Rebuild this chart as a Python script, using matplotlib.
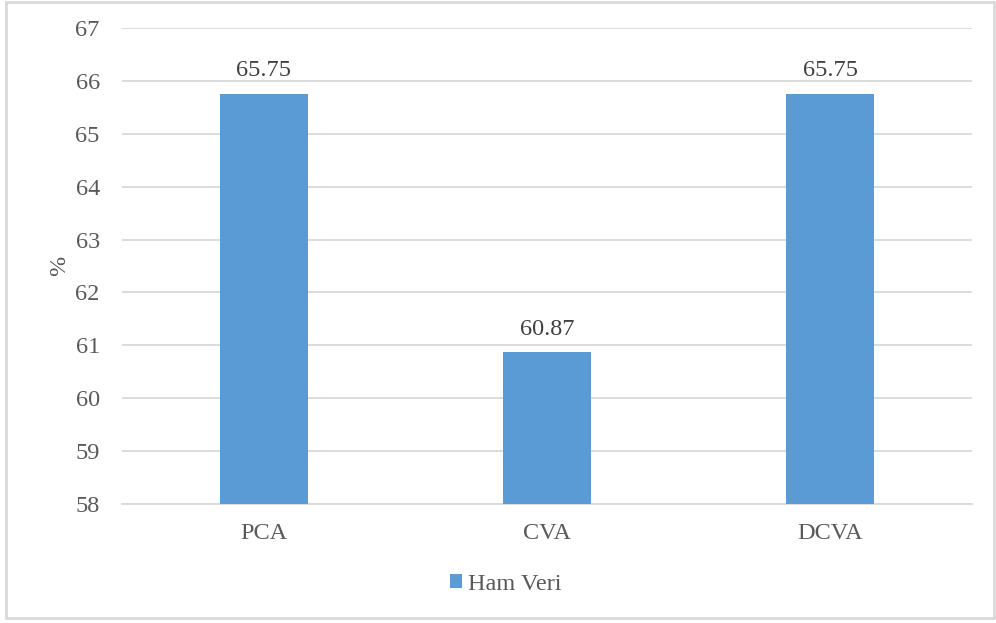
import matplotlib.pyplot as plt
from matplotlib.patches import Rectangle

methods = ["PCA", "CVA", "DCVA"]
ham_veri = [65.75, 60.87, 65.75]
yticks = list(range(58, 68))

plt.rcParams['font.family'] = ['Liberation Serif', 'DejaVu Serif']
txt = "#595959"
fs = 17.5

fig = plt.figure(figsize=(9.96, 6.23), dpi=100)
ax = fig.add_axes([122/996, 1 - 504/623, 850/996, 476/623])

# chart frame
fig.patches.append(Rectangle((6/996, 1 - 618/623), 988/996, 616/623,
                             transform=fig.transFigure, fill=False,
                             edgecolor="#d9d9d9", linewidth=2))

x = range(len(methods))
bars = ax.bar(x, ham_veri, width=0.31, color="#5b9bd5", label="Ham Veri", zorder=3)
for b, v in zip(bars, ham_veri):
    ax.text(b.get_x() + b.get_width() / 2, v + 0.24, f"{v:.2f}",
            ha="center", va="bottom", fontsize=fs, color="#404040")

ax.set_xlim(-0.5, len(methods) - 0.5)
ax.set_ylim(58, 67)
ax.set_yticks(yticks)
ax.set_xticks(list(x))
ax.set_xticklabels(methods)
ax.tick_params(axis="both", length=0, labelsize=fs, colors=txt)
ax.tick_params(axis="y", pad=16)
ax.tick_params(axis="x", pad=14)
ax.grid(axis="y", color="#d9d9d9", linewidth=1.3, zorder=0)
for s in ["top", "right", "left"]:
    ax.spines[s].set_visible(False)
ax.spines["bottom"].set_color("#d9d9d9")
ax.spines["bottom"].set_linewidth(1.3)
ax.set_ylabel("%", fontsize=fs, color=txt, labelpad=4)

leg = fig.legend(loc="center", bbox_to_anchor=(506/996, 1 - 584/623), frameon=False,
                 fontsize=fs, handlelength=0.5, handleheight=0.5, handletextpad=0.25,
                 labelcolor=txt)

fig.savefig("out.png", dpi=100)
